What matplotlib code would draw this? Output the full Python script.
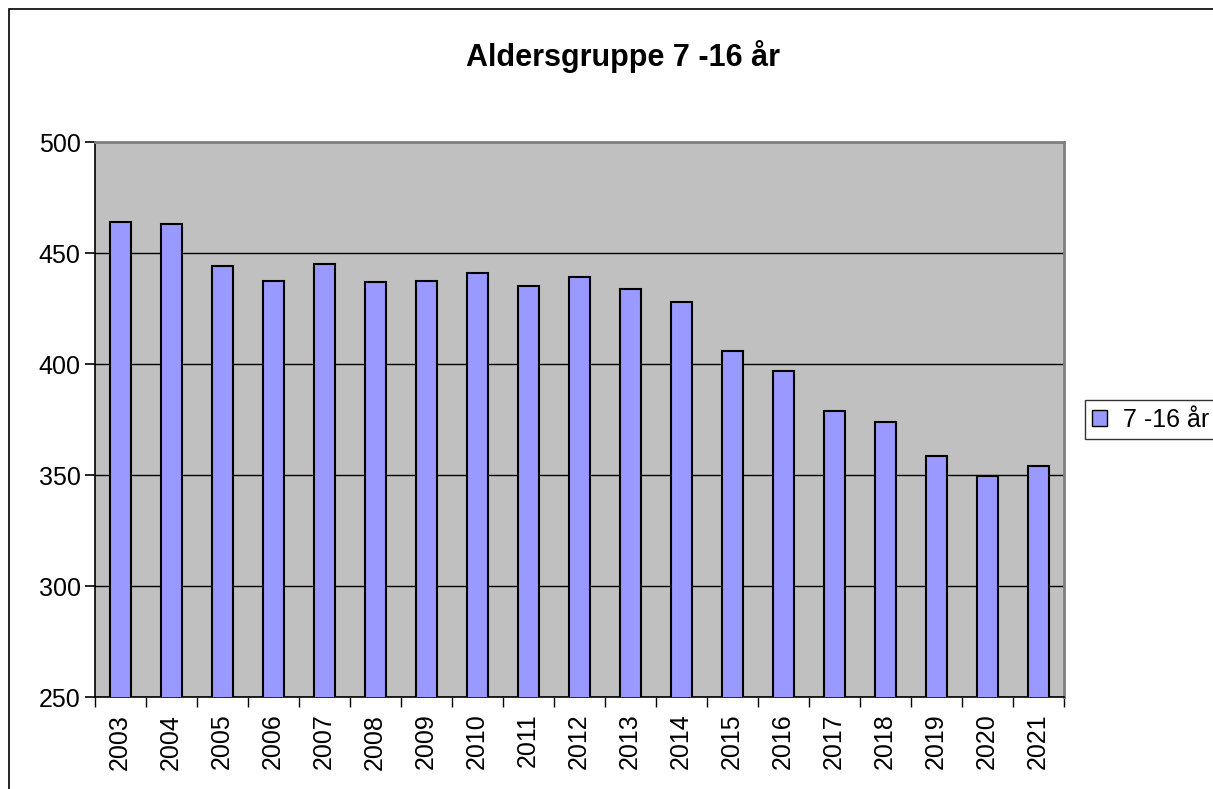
import numpy as np
import matplotlib
matplotlib.use("Agg")
import matplotlib.pyplot as plt
from matplotlib.patches import Rectangle

years = ["2003", "2004", "2005", "2006", "2007", "2008", "2009", "2010", "2011", "2012",
         "2013", "2014", "2015", "2016", "2017", "2018", "2019", "2020", "2021"]
values = [464, 463, 444, 437.5, 445, 437, 437.5, 441, 435, 439,
          434, 428, 406, 397, 379, 374, 358.5, 349.5, 354]
series_name = "7 -16 år"
title = "Aldersgruppe 7 -16 år"

plt.rcParams['font.family'] = ['Liberation Sans', 'DejaVu Sans']

fig = plt.figure(figsize=(12.13, 7.89), dpi=100)
# outer chart border, runs off the right and bottom edges like the original
fig.patches.append(Rectangle((9 / 1213, -0.1), 1.2, 1.1 - 9 / 789,
                             transform=fig.transFigure, fill=False,
                             edgecolor="black", linewidth=1.2))

ax = fig.add_axes([0.078, 0.1166, 0.7988, 0.7034])
ax.set_facecolor("#C0C0C0")
x = np.arange(len(years))
ax.bar(x, values, width=0.41, color="#9999FF", edgecolor="black",
       linewidth=1.5, zorder=3, label=series_name)

ax.set_ylim(250, 500)
ax.set_xlim(-0.5, len(years) - 0.5)
ax.set_yticks([250, 300, 350, 400, 450, 500])
ax.yaxis.grid(True, color="black", linewidth=1.0, zorder=1)
ax.tick_params(axis="y", labelsize=18, length=7, width=1.2, direction="out", pad=3)

ax.set_xticks(x)
ax.set_xticklabels(years, rotation=90, fontsize=18)
ax.tick_params(axis="x", length=0, pad=12)
ax.set_xticks(np.arange(-0.5, len(years)), minor=True)
ax.tick_params(axis="x", which="minor", length=7, width=1.0, direction="out")

for s in ["top", "right"]:
    ax.spines[s].set_color("#808080")
    ax.spines[s].set_linewidth(2)
for s in ["left", "bottom"]:
    ax.spines[s].set_color("black")
    ax.spines[s].set_linewidth(1.2)

fig.text(0.514, 0.929, title, ha="center", va="center", fontsize=22, fontweight="bold")

leg = ax.legend(loc="center left", bbox_to_anchor=(1.022, 0.5), borderaxespad=0,
                fontsize=18, frameon=True, fancybox=False, edgecolor="black",
                handlelength=0.6, handleheight=0.6, handletextpad=0.64, borderpad=0.3)
leg.get_frame().set_linewidth(1.0)
for h in leg.legend_handles:
    h.set_linewidth(1.0)

fig.savefig("out.png", dpi=100)
